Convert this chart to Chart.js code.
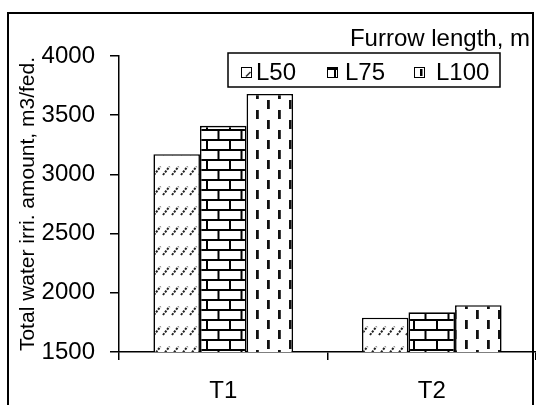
<!DOCTYPE html>
<html>
<head>
<meta charset="utf-8">
<script src="https://cdn.jsdelivr.net/npm/chart.js@4.4.1/dist/chart.umd.min.js"></script>
<style>
  html, body { margin: 0; padding: 0; background: #fff; }
  canvas { display: block; }
</style>
</head>
<body>
<canvas id="myChart" width="536" height="405"></canvas>
<script>
// data
const categories = ['T1', 'T2'];
const seriesNames = ['L50', 'L75', 'L100'];
const l50Values = [3170, 1790];
const l75Values = [3410, 1835];
const l100Values = [3680, 1895];
const yMin = 1500;
const yMax = 4000;
const yStep = 500;
const yTitle = 'Total water irri. amount, m3/fed.';
const legendTitle = 'Furrow length, m';

const FONT = '"Liberation Sans", Arial, sans-serif';

// fill patterns
const makeTile = (w, h, draw) => {
	const c = document.createElement('canvas');
	c.width = w;
	c.height = h;
	const g = c.getContext('2d');
	g.fillStyle = '#fff';
	g.fillRect(0, 0, w, h);
	draw(g);
	return document.createElement('canvas').getContext('2d').createPattern(c, 'repeat');
};

const hatch = makeTile(9, 20, (g) => {
	g.strokeStyle = '#222';
	g.lineWidth = 2;
	g.setLineDash([2.2, 1.2]);
	g.beginPath();
	g.moveTo(1, 15);
	g.lineTo(7.5, 6.5);
	g.stroke();
});

const brick = makeTile(23, 20, (g) => {
	g.fillStyle = '#000';
	g.fillRect(0, 0, 23, 20);
	g.fillStyle = '#fff';
	g.fillRect(1, 1, 21, 8);
	g.fillRect(12.5, 11, 10.5, 8);
	g.fillRect(0, 11, 10.5, 8);
});

const dashes = makeTile(22, 20, (g) => {
	g.fillStyle = '#111';
	g.fillRect(3, 0, 2.8, 9);
	g.fillRect(14, 10, 2.8, 9);
});

const fills = [hatch, brick, dashes];
const values = [l50Values, l75Values, l100Values];

const pagePlugin = {
	id: 'page',
	beforeDraw(chart) {
		const c = chart.ctx;
		c.save();
		c.fillStyle = '#fff';
		c.fillRect(0, 0, chart.width, chart.height);
		c.restore();
	},
	afterDraw(chart) {
		const c = chart.ctx;
		c.save();
		// outer frame
		c.strokeStyle = '#000';
		c.lineWidth = 2;
		c.strokeRect(8, 13, 525, 600);
		// legend heading
		c.fillStyle = '#000';
		c.font = '24px ' + FONT;
		c.textAlign = 'right';
		c.textBaseline = 'alphabetic';
		c.fillText(legendTitle, 530, 46);
		// legend box
		c.lineWidth = 1.5;
		c.fillStyle = '#fff';
		c.fillRect(228, 53, 272, 34);
		c.strokeRect(228, 53, 272, 34);
		const iconX = [241, 327, 414];
		const textX = [256, 345, 436];
		c.textAlign = 'left';
		c.font = '24px ' + FONT;
		seriesNames.forEach((name, i) => {
			const x = iconX[i], y = 67;
			c.fillStyle = '#fff';
			c.fillRect(x, y, 10, 10);
			c.lineWidth = 1;
			c.strokeStyle = '#000';
			c.strokeRect(x + 0.5, y + 0.5, 10, 10);
			c.fillStyle = '#000';
			if (i === 0) {
				c.strokeStyle = '#333';
				c.lineWidth = 1.6;
				c.beginPath();
				c.moveTo(x + 5, y + 9.5);
				c.lineTo(x + 9.5, y + 5);
				c.stroke();
			} else if (i === 1) {
				c.fillRect(x, y, 11, 3);
				c.fillRect(x + 7, y, 2, 11);
			} else {
				c.fillRect(x + 6, y + 2, 2.5, 7);
			}
			c.fillStyle = '#000';
			c.fillText(name, textX[i], 80);
		});
		c.restore();
	}
};

const ctx = document.getElementById('myChart').getContext('2d');
new Chart(ctx, {
	type: 'bar',
	data: {
		labels: categories,
		datasets: seriesNames.map((name, i) => ({
			label: name,
			data: values[i],
			backgroundColor: fills[i],
			borderColor: '#000',
			borderWidth: 1.6,
			categoryPercentage: 0.67,
			barPercentage: 1.0
		}))
	},
	options: {
		responsive: false,
		animation: false,
		layout: { padding: { left: 8, top: 56, right: 0, bottom: 0 } },
		plugins: {
			legend: { display: false },
			tooltip: { enabled: false }
		},
		scales: {
			x: {
				grid: { drawOnChartArea: false, offset: true, tickLength: 8, color: '#000', lineWidth: 1.5 },
				border: { color: '#000', width: 1.5 },
				ticks: { color: '#000', padding: 17, font: { family: FONT, size: 24 } },
				afterFit: (s) => { s.height = 53; }
			},
			y: {
				min: yMin,
				max: yMax,
				ticks: {
					stepSize: yStep,
					color: '#000',
					padding: 15,
					font: { family: FONT, size: 24 },
					callback: (v) => String(v)
				},
				grid: { drawOnChartArea: false, tickLength: 9, color: '#000', lineWidth: 1.5 },
				border: { color: '#000', width: 1.5 },
				title: {
					display: true,
					text: yTitle,
					color: '#000',
					padding: { top: 8, bottom: 0 },
					font: { family: FONT, size: 21 }
				},
				afterFit: (s) => { s.width = 111; }
			}
		}
	},
	plugins: [pagePlugin]
});
</script>
</body>
</html>
